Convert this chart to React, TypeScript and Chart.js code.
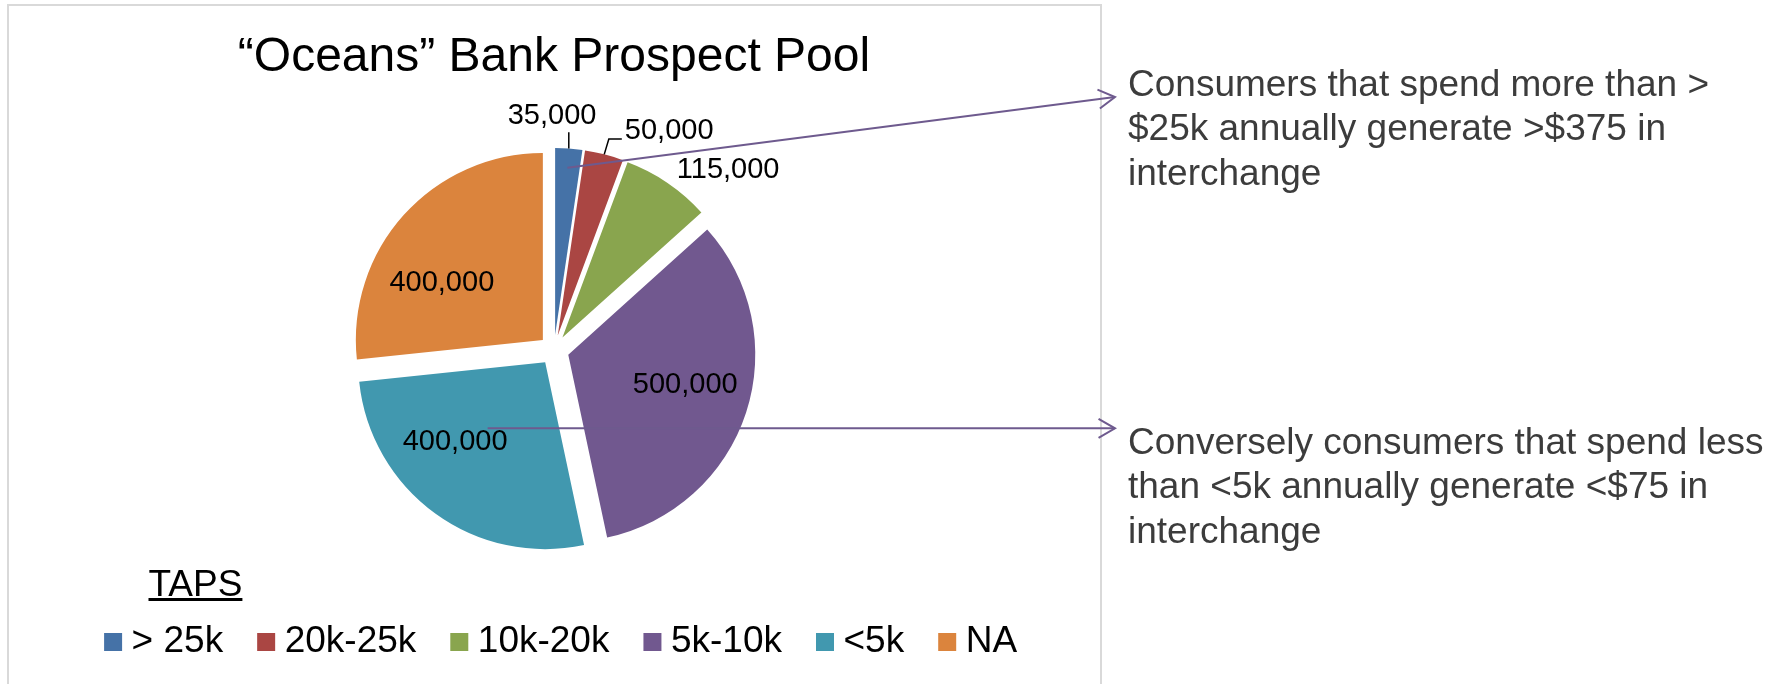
import React, { useEffect, useRef } from 'react';
import { Chart, registerables, ArcElement, PieController } from 'chart.js';

Chart.register(...registerables);

// ---------------- data ----------------
const CATEGORIES = ['> 25k', '20k-25k', '10k-20k', '5k-10k', '<5k', 'NA'];
const VALUES = [35000, 50000, 115000, 500000, 400000, 400000];
const COLORS = ['#4572A7', '#AA4643', '#89A54E', '#71588F', '#4198AF', '#DB843D'];
const TITLE = '“Oceans” Bank Prospect Pool';
const LEGEND_TITLE = 'TAPS';
const NOTE_TOP = ['Consumers that spend more than >', '$25k annually generate >$375 in', 'interchange'];
const NOTE_BOTTOM = ['Conversely consumers that spend less', 'than <5k annually generate <$75 in', 'interchange'];

// ---------------- label layout (relative to each slice) ----------------
const LABEL_SHIFT_DEG = [-5, 14.2, 10.5, -3.6, 12.4, -12.6];
const LABEL_RADIUS = [1.17, 1.245, 1.26, 0.646, 0.644, 0.62];
const LABEL_LEADER = ['vertical', 'elbow', 'none', 'none', 'none', 'none'];

// ---------------- styling ----------------
const FONT = "'Liberation Sans', Arial, sans-serif";
const EXPLODE = 15;
const PIE_RADIUS = 187;
const ARROW_COLOR = '#6e5a8e';
const ARROW_TIP_X = 1115;
const ARROW1_TIP_Y = 97;
const ARROW_FROM = [
  { slice: 0, shiftDeg: 0, r: 0.897 },
  { slice: 4, shiftDeg: 5, r: 0.469 },
];

Chart.defaults.font.family = FONT;

class ExplodedArc extends ArcElement {
  static id = 'explodedArc';
  draw(ctx: CanvasRenderingContext2D) {
    const self: any = this;
    const mid = (self.startAngle + self.endAngle) / 2;
    ctx.save();
    ctx.translate(Math.cos(mid) * EXPLODE, Math.sin(mid) * EXPLODE);
    super.draw(ctx);
    ctx.restore();
  }
}

class ExplodedPieController extends PieController {
  static id = 'explodedPie';
  static defaults = { dataElementType: 'explodedArc' };
}

Chart.register(ExplodedArc as any, ExplodedPieController as any);

function arrowHead(ctx: CanvasRenderingContext2D, fx: number, fy: number, tx: number, ty: number) {
  const ang = Math.atan2(ty - fy, tx - fx);
  const len = 19;
  const spread = (30 * Math.PI) / 180;
  ctx.beginPath();
  ctx.moveTo(tx + Math.cos(ang + Math.PI - spread) * len, ty + Math.sin(ang + Math.PI - spread) * len);
  ctx.lineTo(tx, ty);
  ctx.lineTo(tx + Math.cos(ang + Math.PI + spread) * len, ty + Math.sin(ang + Math.PI + spread) * len);
  ctx.stroke();
}

const annotationPlugin = {
  id: 'pieAnnotations',
  afterDatasetsDraw(chart: any) {
    const ctx: CanvasRenderingContext2D = chart.ctx;
    const meta = chart.getDatasetMeta(0);
    const geo = meta.data.map((arc: any) => {
      const p = arc.getProps(['x', 'y', 'startAngle', 'endAngle', 'outerRadius'], true);
      const mid = (p.startAngle + p.endAngle) / 2;
      return {
        mid,
        R: p.outerRadius,
        ax: p.x + Math.cos(mid) * EXPLODE,
        ay: p.y + Math.sin(mid) * EXPLODE,
      };
    });

    ctx.save();
    ctx.font = `29px ${FONT}`;
    ctx.fillStyle = '#000';
    ctx.strokeStyle = '#000';
    ctx.lineWidth = 1.5;
    ctx.textAlign = 'center';
    ctx.textBaseline = 'middle';
    geo.forEach((g: any, i: number) => {
      const la = g.mid + (LABEL_SHIFT_DEG[i] * Math.PI) / 180;
      const lx = g.ax + Math.cos(la) * g.R * LABEL_RADIUS[i];
      const ly = g.ay + Math.sin(la) * g.R * LABEL_RADIUS[i];
      const text = VALUES[i].toLocaleString('en-US');
      ctx.fillText(text, lx, ly);
      const ex = g.ax + Math.cos(g.mid) * g.R;
      const ey = g.ay + Math.sin(g.mid) * g.R;
      if (LABEL_LEADER[i] === 'vertical') {
        ctx.beginPath();
        ctx.moveTo(ex, ey);
        ctx.lineTo(ex, ly + 16);
        ctx.stroke();
      } else if (LABEL_LEADER[i] === 'elbow') {
        const w = ctx.measureText(text).width;
        const left = lx - w / 2;
        ctx.beginPath();
        ctx.moveTo(ex, ey);
        ctx.lineTo(left - 16, ly + 8);
        ctx.lineTo(left - 3, ly + 8);
        ctx.stroke();
      }
    });

    // pointer arrows to the side notes
    ctx.strokeStyle = ARROW_COLOR;
    ctx.lineWidth = 2;
    ARROW_FROM.forEach((a, k) => {
      const g = geo[a.slice];
      const ang = g.mid + (a.shiftDeg * Math.PI) / 180;
      const sx = g.ax + Math.cos(ang) * g.R * a.r;
      const sy = g.ay + Math.sin(ang) * g.R * a.r;
      const tx = ARROW_TIP_X;
      const ty = k === 0 ? ARROW1_TIP_Y : sy;
      ctx.beginPath();
      ctx.moveTo(sx, sy);
      ctx.lineTo(tx, ty);
      ctx.stroke();
      arrowHead(ctx, sx, sy, tx, ty);
    });
    ctx.restore();
  },
};

export default function App() {
  const canvasRef = useRef<HTMLCanvasElement | null>(null);

  useEffect(() => {
    const canvas = canvasRef.current;
    if (!canvas) return;
    const chart = new Chart(canvas, {
      type: 'explodedPie' as any,
      data: {
        labels: CATEGORIES,
        datasets: [
          {
            data: VALUES,
            backgroundColor: COLORS,
            borderWidth: 0,
          },
        ],
      },
      options: {
        responsive: false,
        animation: false,
        radius: PIE_RADIUS,
        layout: { padding: { left: 47.9, right: 726.9, top: 0, bottom: 13.5 } },
        plugins: {
          title: {
            display: true,
            text: TITLE,
            color: '#000',
            font: { family: FONT, size: 48, weight: 'normal' },
            padding: { top: 28.6, bottom: 33.3 },
          },
          legend: {
            position: 'bottom',
            align: 'end',
            labels: {
              usePointStyle: true,
              pointStyle: 'rect',
              boxWidth: 0.01,
              boxHeight: 18,
              padding: 43,
              color: '#000',
              font: { family: FONT, size: 37 },
            },
          },
          tooltip: { enabled: false },
        },
      } as any,
      plugins: [annotationPlugin],
    });
    return () => chart.destroy();
  }, []);

  const noteStyle: React.CSSProperties = {
    position: 'absolute',
    left: 1128,
    fontFamily: FONT,
    fontSize: 37,
    lineHeight: '44.4px',
    color: '#3c3c3c',
    whiteSpace: 'nowrap',
  };

  return (
    <div>
      <div
        style={{
          position: 'absolute',
          left: 7,
          top: 4,
          width: 1091,
          height: 678,
          border: '2px solid #d9d9d9',
          borderBottom: 'none',
        }}
      />
      <canvas
        ref={canvasRef}
        width={1787}
        height={684}
        style={{ position: 'absolute', left: 0, top: 0, width: 1787, height: 684 }}
      />
      <div
        style={{
          position: 'absolute',
          left: 148.5,
          top: 561.6,
          fontFamily: FONT,
          fontSize: 37,
          lineHeight: '44.4px',
          color: '#000',
          textDecoration: 'underline',
        }}
      >
        {LEGEND_TITLE}
      </div>
      <div style={{ ...noteStyle, top: 61.7 }}>
        {NOTE_TOP.map((l, i) => (
          <div key={i}>{l}</div>
        ))}
      </div>
      <div style={{ ...noteStyle, top: 420 }}>
        {NOTE_BOTTOM.map((l, i) => (
          <div key={i}>{l}</div>
        ))}
      </div>
    </div>
  );
}
